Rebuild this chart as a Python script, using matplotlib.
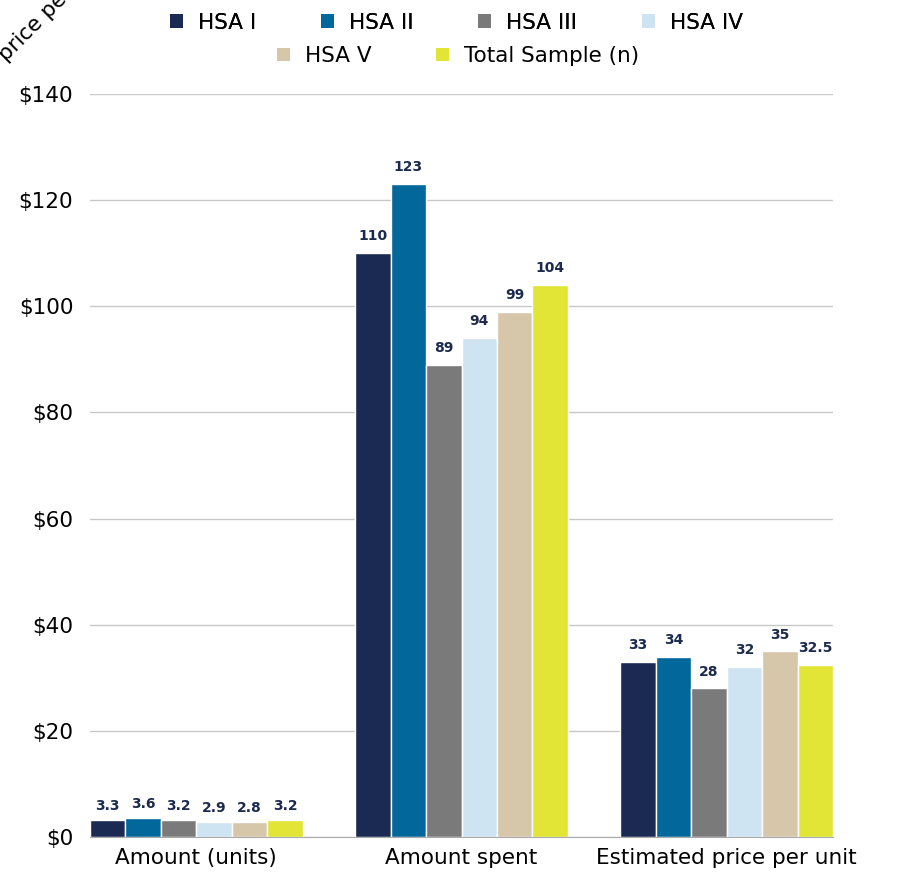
import matplotlib.pyplot as plt
import numpy as np
from matplotlib.patches import Patch

plt.rcParams['font.family'] = ['DejaVu Sans']

categories = ['Amount (units)', 'Amount spent', 'Estimated price per unit']
series = ['HSA I', 'HSA II', 'HSA III', 'HSA IV', 'HSA V', 'Total Sample (n)']
values = {
    'HSA I': [3.3, 110, 33],
    'HSA II': [3.6, 123, 34],
    'HSA III': [3.2, 89, 28],
    'HSA IV': [2.9, 94, 32],
    'HSA V': [2.8, 99, 35],
    'Total Sample (n)': [3.2, 104, 32.5],
}
colors = ['#1a2a52', '#02679a', '#7a7a7a', '#cfe4f3', '#d6c7ab', '#e2e535']
yticks = [0, 20, 40, 60, 80, 100, 120, 140]

fig = plt.figure(figsize=(8.97, 8.75), dpi=100)
ax = fig.add_axes([0.1003, 0.0434, 0.8284, 0.8492])

x = np.arange(len(categories))
w = 0.1337
for i, s in enumerate(series):
    pos = x - 2.5 * w + i * w
    bars = ax.bar(pos, values[s], width=w, color=colors[i], edgecolor='white', linewidth=1, zorder=3)
    for b, v in zip(bars, values[s]):
        lab = ('%g' % v)
        ax.annotate(lab, (b.get_x() + b.get_width() / 2, v), xytext=(0, 7 if v > 10 else 5),
                    textcoords='offset points', ha='center', va='bottom',
                    fontsize=10, fontweight='bold', color='#1b2a4e')

ax.set_xlim(-0.401, 2.401)
ax.set_ylim(0, 140)
ax.set_yticks(yticks)
ax.set_yticklabels(['$%d' % t for t in yticks], fontsize=15.5)
ax.set_xticks(x)
ax.set_xticklabels(categories, fontsize=15.5)
ax.tick_params(axis='y', length=0, pad=12)
ax.tick_params(axis='x', length=0, pad=8)
ax.grid(axis='y', color='#c8c8c8', linewidth=1, zorder=0)
for sp in ['left', 'right', 'top']:
    ax.spines[sp].set_visible(False)
ax.spines['bottom'].set_color('#aaaaaa')
ax.spines['bottom'].set_zorder(4)

handles = [Patch(facecolor=c, edgecolor='none') for c in colors]
leg1 = fig.legend(handles[:4], series[:4], ncol=4, loc='center', bbox_to_anchor=(0.509, 0.974),
                  frameon=False, fontsize=15.5, handlelength=0.6, handleheight=0.6,
                  handletextpad=0.7, columnspacing=3.0)
leg2 = fig.legend(handles[4:], series[4:], ncol=2, loc='center', bbox_to_anchor=(0.511, 0.936),
                  frameon=False, fontsize=15.5, handlelength=0.6, handleheight=0.6,
                  handletextpad=0.7, columnspacing=3.0)
fig.add_artist(leg1)

fig.text(6 / 897, 1 - 62 / 875, 'price per unit', rotation=45, rotation_mode='anchor',
         ha='left', va='baseline', fontsize=15.5)

fig.savefig('out.png', dpi=100)
